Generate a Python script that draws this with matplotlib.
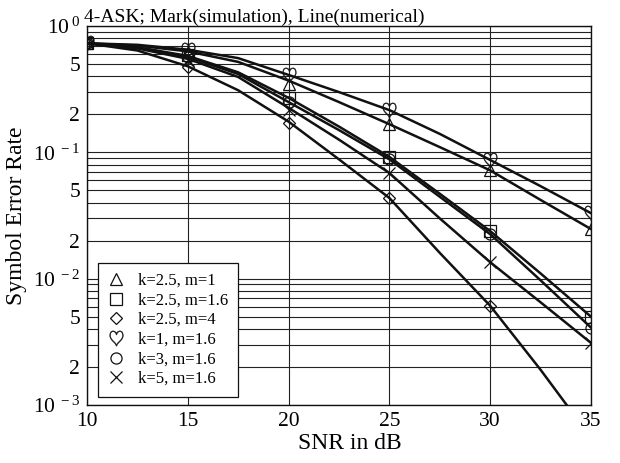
import numpy as np
import matplotlib as mpl
mpl.use('Agg')
import matplotlib.pyplot as plt
from matplotlib.lines import Line2D

plt.rcParams['font.family'] = ['Liberation Serif', 'DejaVu Serif']
plt.rcParams['mathtext.fontset'] = 'custom'
plt.rcParams['mathtext.rm'] = 'Liberation Serif'

# simulation points (marks)
snr_sim = [10, 15, 20, 25, 30, 35]
sim_k25_m1 = [0.73, 0.62, 0.35, 0.167, 0.072, 0.0247]
sim_k25_m16 = [0.73, 0.59, 0.27, 0.092, 0.0238, 0.0050]
sim_k25_m4 = [0.73, 0.47, 0.171, 0.0435, 0.0061, np.nan]
sim_k1_m16 = [0.73, 0.645, 0.41, 0.216, 0.087, 0.033]
sim_k3_m16 = [0.73, 0.57, 0.25, 0.088, 0.0225, 0.0041]
sim_k5_m16 = [0.73, 0.54, 0.216, 0.0686, 0.0135, 0.0031]

# numerical curves (lines)
snr_num = [10, 12.5, 15, 17.5, 20, 22.5, 25, 27.5, 30, 32.5, 35]
num_k25_m1 = [0.73, 0.70, 0.63, 0.52, 0.37, 0.25, 0.167, 0.11, 0.072, 0.042, 0.0247]
num_k25_m16 = [0.73, 0.68, 0.58, 0.43, 0.27, 0.16, 0.092, 0.047, 0.0238, 0.011, 0.0050]
num_k25_m4 = [0.73, 0.64, 0.48, 0.31, 0.175, 0.088, 0.0435, 0.016, 0.0061, 0.0019, 0.00055]
num_k1_m16 = [0.73, 0.71, 0.65, 0.557, 0.41, 0.30, 0.216, 0.14, 0.087, 0.054, 0.033]
num_k3_m16 = [0.73, 0.675, 0.57, 0.417, 0.25, 0.15, 0.088, 0.0445, 0.0225, 0.0097, 0.0041]
num_k5_m16 = [0.73, 0.665, 0.55, 0.395, 0.225, 0.126, 0.0686, 0.030, 0.0135, 0.0065, 0.0031]

labels = ['k=2.5, m=1', 'k=2.5, m=1.6', 'k=2.5, m=4',
          'k=1, m=1.6', 'k=3, m=1.6', 'k=5, m=1.6']
markers = ['^', 's', 'D', r'$\heartsuit$', 'o', 'x']
msizes = [8, 8, 6, 11, 8, 9]
sims = [sim_k25_m1, sim_k25_m16, sim_k25_m4, sim_k1_m16, sim_k3_m16, sim_k5_m16]
nums = [num_k25_m1, num_k25_m16, num_k25_m4, num_k1_m16, num_k3_m16, num_k5_m16]


def marker_style(mk, ms):
    # text glyph markers are drawn filled, like text
    if mk.startswith('$'):
        return dict(marker=mk, ms=ms, mfc='#111111', mec='#111111', mew=0.3)
    return dict(marker=mk, ms=ms, mfc='none', mec='#111111', mew=0.9)


fig = plt.figure(figsize=(6.2, 4.63), dpi=100)
ax = fig.add_axes([0.1403, 0.1253, 0.8129, 0.8185])

for num in nums:
    ax.plot(snr_num, num, color='#111111', lw=1.8, zorder=3)

handles = []
for sim, mk, ms, lab in zip(sims, markers, msizes, labels):
    st = marker_style(mk, ms)
    ax.plot(snr_sim, sim, linestyle='none', zorder=4, **st)
    handles.append(Line2D([], [], linestyle='none', label=lab, **st))

ax.set_yscale('log')
ax.set_xlim(10, 35)
ax.set_ylim(1e-3, 1)

ax.set_xticks([10, 15, 20, 25, 30, 35])
ax.set_xticklabels(['10', '15', '20', '25', '30', '35'])

decades = [1e-3, 1e-2, 1e-1, 1e0]
ax.set_yticks(decades)
ax.set_yticklabels([r'$\mathregular{10^{\,-3}}$', r'$\mathregular{10^{\,-2}}$',
                    r'$\mathregular{10^{\,-1}}$', r'$\mathregular{10^{\,0}}$'])
minors = []
minor_labels = []
for d in decades[:-1]:
    for m in range(2, 10):
        minors.append(m * d)
        minor_labels.append(str(m) if m in (2, 5) else '')
ax.set_yticks(minors, minor=True)
ax.set_yticklabels(minor_labels, minor=True)

ax.tick_params(which='both', length=0, labelsize=15.5, pad=5)
ax.grid(True, which='both', axis='y', color='#222222', lw=0.8)
ax.grid(True, which='major', axis='x', color='#222222', lw=0.8)
for sp in ax.spines.values():
    sp.set_color('#111111')
    sp.set_linewidth(1.0)

ax.set_xlabel('SNR in dB', fontsize=17)
ax.xaxis.set_label_coords(0.522, -0.075)
ax.set_ylabel('Symbol Error Rate', fontsize=17, labelpad=4)
ax.set_title('4-ASK; Mark(simulation), Line(numerical)', fontsize=14,
             loc='left', pad=2, x=-0.005)

leg = ax.legend(handles=handles, loc='lower left',
                bbox_to_anchor=(0.022, 0.021), borderaxespad=0,
                fontsize=12, handlelength=1.0, handletextpad=0.8,
                labelspacing=0.22, borderpad=0.6, fancybox=False,
                framealpha=1, edgecolor='#111111')
leg.get_frame().set_linewidth(0.9)
leg.set_zorder(5)

fig.savefig('out.png', dpi=100)
